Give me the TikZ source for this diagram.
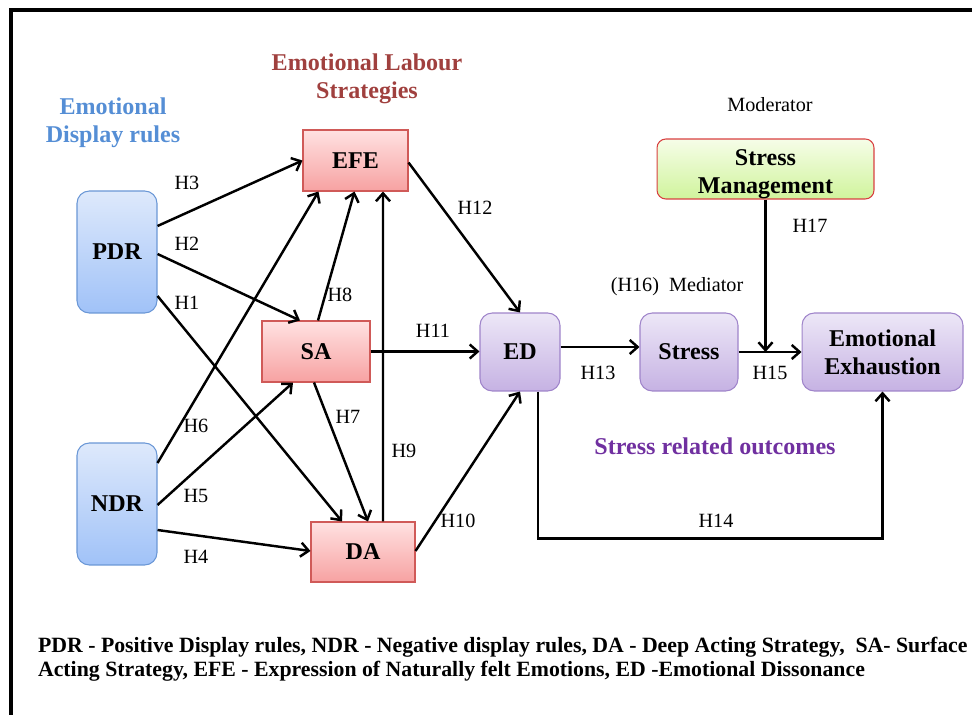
\documentclass[tikz,border=0pt]{standalone}
\usepackage{fontspec}
\setmainfont{Liberation Serif}
\usetikzlibrary{arrows.meta}

\definecolor{rulesblue}{HTML}{558ED5}
\definecolor{labourred}{HTML}{A0403E}
\definecolor{outcomepurple}{HTML}{7030A0}
\definecolor{ruletop}{HTML}{DEE9FB}
\definecolor{rulebottom}{HTML}{A0C2F8}
\definecolor{ruleedge}{HTML}{6A97D6}
\definecolor{labtop}{HTML}{FFE1E1}
\definecolor{labbottom}{HTML}{F7A2A2}
\definecolor{labedge}{HTML}{D05A58}
\definecolor{outtop}{HTML}{EDE7F7}
\definecolor{outbottom}{HTML}{C6B2E3}
\definecolor{outedge}{HTML}{9F84CA}
\definecolor{modtop}{HTML}{F6FDE8}
\definecolor{modbottom}{HTML}{D0F49C}
\definecolor{modedge}{HTML}{D84040}

\begin{document}
\begin{tikzpicture}[x=0.02cm, y=-0.02cm, line width=1.4pt, ->,
  >={Straight Barb[length=4.5pt,width=8pt]},
  box/.style={draw, line width=0.6pt, align=center, inner sep=0pt,
    font=\fontsize{13.7}{16}\selectfont\bfseries},
  rulebox/.style={box, rounded corners=7pt, draw=ruleedge,
    top color=ruletop, bottom color=rulebottom,
    minimum width=1.6cm, minimum height=2.44cm},
  labbox/.style={box, draw=labedge, top color=labtop,
    bottom color=labbottom, minimum height=1.22cm},
  outbox/.style={box, rounded corners=7pt, draw=outedge,
    top color=outtop, bottom color=outbottom,
    minimum height=1.56cm},
  modbox/.style={box, rounded corners=5pt, draw=modedge,
    top color=modtop, bottom color=modbottom,
    minimum width=4.34cm, minimum height=1.2cm},
  heading/.style={align=center, font=\fontsize{13.7}{16.2}\selectfont\bfseries},
  hlab/.style={font=\fontsize{11.5}{13}\selectfont}]

\useasboundingbox (0,0) rectangle (972,715);
\draw[-, line width=2.3pt] (972,10) -- (11,10) -- (11,715);

% headings
\node[heading, text=rulesblue] (rules) at (113,123) {Emotional\\ Display rules};
\node[heading, text=labourred] (labour) at (367,79) {Emotional Labour\\ Strategies};
\node[heading, text=outcomepurple] (outcomes) at (715,446) {Stress related outcomes};
\node[hlab] (moderator) at (770,105) {Moderator};
\node[hlab] (mediator) at (677,287) {(H16)\ \ Mediator};

% boxes
\node[rulebox] (pdr) at (117,252) {PDR};
\node[rulebox] (ndr) at (117,504) {NDR};
\node[labbox, minimum width=2.1cm] (efe) at (355.5,160.5) {EFE};
\node[labbox, minimum width=2.16cm] (sa) at (316,351.5) {SA};
\node[labbox, minimum width=2.08cm, minimum height=1.2cm] (da) at (363,552) {DA};
\node[outbox, minimum width=1.6cm] (ed) at (520,352) {ED};
\node[outbox, minimum width=1.96cm] (stress) at (689,352) {Stress};
\node[outbox, minimum width=3.22cm] (ee) at (882.5,352) {Emotional\\ Exhaustion};
\node[modbox] (sm) at (765.5,169) {\rule{0pt}{15pt}Stress\\ Management};

\coordinate (edout) at ([shift={(0,-5)}]ed.east);

\path ([shift={(0,-26)}]pdr.east) edge (efe.west)
      ([shift={(0,2)}]pdr.east) edge ([shift={(-16,0)}]sa.north)
      ([shift={(0,44)}]pdr.east) edge ([shift={(-21,0)}]da.north)
      ([shift={(0,-41)}]ndr.east) edge ([shift={(-37,0)}]efe.south)
      ([shift={(0,1)}]ndr.east) edge ([shift={(-23,0)}]sa.south)
      ([shift={(0,26)}]ndr.east) edge ([shift={(0,-1)}]da.west)
      ([shift={(2,0)}]sa.north) edge ([shift={(-1,0)}]efe.south)
      ([shift={(-2,0)}]sa.south) edge ([shift={(5,0)}]da.north)
      ([shift={(20,0)}]da.north) edge ([shift={(27.5,0)}]efe.south)
      (sa.east) edge (sa.east -| ed.west)
      ([shift={(0,2)}]efe.east) edge (ed.north)
      ([shift={(0,-1)}]da.east) edge (ed.south)
      (edout) edge (edout -| stress.west)
      (stress.east) edge (ee.west)
      (sm.south) edge (sm.south |- ee.west);
\draw ([shift={(18,0)}]ed.south) -- ++(0,147) -| (ee.south);

% hypothesis labels
\node[hlab] (h1) at (187,303) {H1};
\node[hlab] (h2) at (187,244) {H2};
\node[hlab] (h3) at (187,183) {H3};
\node[hlab] (h4) at (196,557) {H4};
\node[hlab] (h5) at (196,496) {H5};
\node[hlab] (h6) at (196,426) {H6};
\node[hlab] (h7) at (348,417) {H7};
\node[hlab] (h8) at (340,295) {H8};
\node[hlab] (h9) at (404,451) {H9};
\node[hlab] (h10) at (458,521) {H10};
\node[hlab] (h11) at (433,331) {H11};
\node[hlab] (h12) at (475,208) {H12};
\node[hlab] (h13) at (598,373) {H13};
\node[hlab] (h14) at (716,521) {H14};
\node[hlab] (h15) at (770,373) {H15};
\node[hlab] (h17) at (810,226) {H17};

% legend
\node[anchor=west, align=left, font=\fontsize{12.4}{13.8}\selectfont\bfseries] (legend) at (31,659)
  {PDR - Positive Display rules, NDR - Negative display rules, DA - Deep Acting Strategy,\ \ SA- Surface\\
   Acting Strategy, EFE - Expression of Naturally felt Emotions, ED -Emotional Dissonance};
\end{tikzpicture}
\end{document}
